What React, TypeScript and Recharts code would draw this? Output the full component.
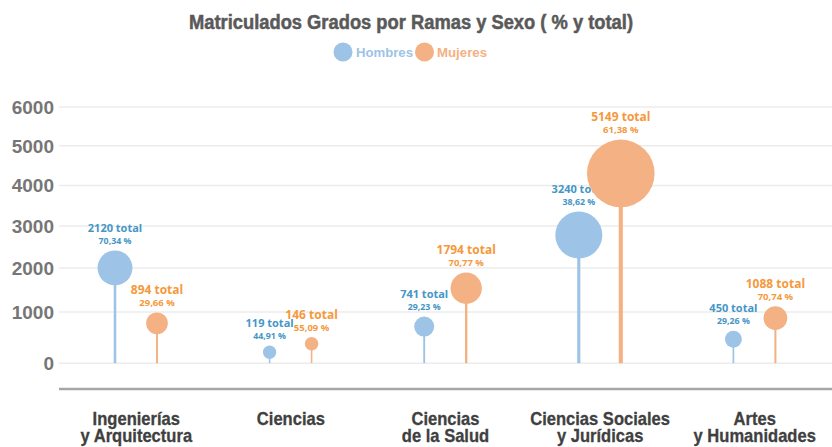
import React from 'react';
import { ComposedChart, Bar, XAxis, YAxis, CartesianGrid } from 'recharts';

// ---------- data ----------
const categories = [
  'Ingenierías\ny Arquitectura',
  'Ciencias',
  'Ciencias\nde la Salud',
  'Ciencias Sociales\ny Jurídicas',
  'Artes\ny Humanidades',
];
// bubble-centre heights as read on the value axis
const hombresValue = [2000, 180, 690, 2780, 430];
const mujeresValue = [760, 340, 1530, 4300, 870];
// annotated totals and percentages
const hombresTotal = [2120, 119, 741, 3240, 450];
const mujeresTotal = [894, 146, 1794, 5149, 1088];
const hombresPct = ['70,34', '44,91', '29,23', '38,62', '29,26'];
const mujeresPct = ['29,66', '55,09', '70,77', '61,38', '70,74'];
const yTicks = [0, 1000, 2000, 3000, 4000, 5000, 6000];

const data = categories.map((name, i) => ({
  name,
  hombres: hombresValue[i],
  mujeres: mujeresValue[i],
  hombresTotal: hombresTotal[i],
  mujeresTotal: mujeresTotal[i],
  hombresPct: hombresPct[i],
  mujeresPct: mujeresPct[i],
}));

// ---------- styles ----------
const H_FILL = '#9dc3e6';
const M_FILL = '#f4b183';
const H_LABEL = '#4596c6';
const M_LABEL = '#f5993d';
const SANS = '"Liberation Sans", Arial, sans-serif';
const LABEL_FONT = '"Open Sans", "Noto Sans", sans-serif';

// power scale (exponent 0.9) matching the reference's gridline spacing
function makePowScale(exponent: number): any {
  let dom: number[] = [0, 1];
  let rng: number[] = [0, 1];
  const f = (v: number) => Math.sign(v) * Math.pow(Math.abs(v), exponent);
  const finv = (u: number) => Math.sign(u) * Math.pow(Math.abs(u), 1 / exponent);
  const scale: any = (v: number) => {
    const a = f(dom[0]);
    const b = f(dom[1]);
    const t = (f(Number(v)) - a) / (b - a);
    return rng[0] + t * (rng[1] - rng[0]);
  };
  scale.domain = (d?: any[]) => {
    if (d === undefined) return dom.slice();
    dom = d.map(Number);
    return scale;
  };
  scale.range = (r?: any[]) => {
    if (r === undefined) return rng.slice();
    rng = r.map(Number);
    return scale;
  };
  scale.invert = (p: number) => {
    const a = f(dom[0]);
    const b = f(dom[1]);
    const t = (p - rng[0]) / (rng[1] - rng[0]);
    return finv(a + t * (b - a));
  };
  scale.copy = () => makePowScale(exponent).domain(dom).range(rng);
  scale.ticks = (n: number = 10) => {
    const lo = Math.min(dom[0], dom[1]);
    const hi = Math.max(dom[0], dom[1]);
    const step = Math.pow(10, Math.floor(Math.log10((hi - lo) / n)));
    const out: number[] = [];
    for (let v = Math.ceil(lo / step) * step; v <= hi; v += step) out.push(v);
    return out;
  };
  scale.tickFormat = () => (v: number) => String(v);
  scale.nice = () => scale;
  scale.clamp = () => scale;
  return scale;
}
const yScale = makePowScale(0.9);

const applyScale = (s: any, v: number) => (typeof s === 'function' ? s(v) : s.map(v));

const gridY = (props: any) => {
  const s = props?.yAxis?.scale;
  if (!s) return [];
  return yTicks.map((t) => applyScale(s, t));
};

const bubbleRadius = (total: number) => 6 + total * 0.0054;
const stemWidth = (total: number) => 1.5 + total / 2000;

function makeLollipop(fill: string, labelColor: string, totalKey: string, pctKey: string, big: boolean) {
  return (props: any) => {
    const { x, y, width, height, payload } = props;
    if (x == null || y == null || !payload) return <g />;
    const cx = x + width / 2;
    const total = payload[totalKey];
    const r = bubbleRadius(total);
    const top = y - r;
    return (
      <g>
        <line x1={cx} x2={cx} y1={y} y2={y + height} stroke={fill} strokeWidth={stemWidth(total)} />
        <circle cx={cx} cy={y} r={r} fill={fill} />
        <text
          x={cx}
          y={top - 18.5}
          textAnchor="middle"
          fill={labelColor}
          fontFamily={LABEL_FONT}
          fontWeight={700}
          fontSize={big ? 12 : 11}
        >
          {`${total} total`}
        </text>
        <text
          x={cx}
          y={top - 6.5}
          textAnchor="middle"
          fill={labelColor}
          fontFamily={LABEL_FONT}
          fontWeight={700}
          fontSize={big ? 9.5 : 8.8}
        >
          {`${payload[pctKey]} %`}
        </text>
      </g>
    );
  };
}

const HombresShape = makeLollipop(H_FILL, H_LABEL, 'hombresTotal', 'hombresPct', false);
const MujeresShape = makeLollipop(M_FILL, M_LABEL, 'mujeresTotal', 'mujeresPct', true);

const CategoryTick = (props: any) => {
  const { x, y, payload } = props;
  const lines = String(payload.value).split('\n');
  return (
    <g>
      {lines.map((line, i) => (
        <text
          key={i}
          transform={`translate(${x},${y + 34 + i * 17}) scale(0.92,1)`}
          textAnchor="middle"
          fill="#404040"
          stroke="#404040"
          strokeWidth={0.3}
          fontFamily={SANS}
          fontWeight={700}
          fontSize={18}
        >
          {line}
        </text>
      ))}
    </g>
  );
};

export default function App() {
  return (
    <div style={{ position: 'absolute', left: 0, top: 0, width: 832, height: 447, background: '#ffffff' }}>
      <ComposedChart
        width={832}
        height={447}
        data={data}
        margin={{ top: 69, right: 0, bottom: 0, left: 0 }}
        barGap={0}
      >
        <CartesianGrid
          vertical={false}
          stroke="#ececec"
          strokeWidth={1.5}
          horizontalCoordinatesGenerator={gridY}
        />
        <XAxis
          dataKey="name"
          type="category"
          interval={0}
          height={58}
          tickLine={false}
          tickSize={0}
          axisLine={{ stroke: '#a6a6a6', strokeWidth: 2.5 }}
          tick={<CategoryTick />}
        />
        <YAxis
          type="number"
          scale={yScale}
          domain={[-470, 7000]}
          ticks={yTicks}
          interval={0}
          width={59}
          axisLine={false}
          tickLine={false}
          tickSize={0}
          tickMargin={5}
          tick={{ fill: '#767676', fontSize: 19, fontWeight: 700, fontFamily: SANS }}
        />
        <Bar dataKey="hombres" barSize={42} fill={H_FILL} shape={HombresShape} isAnimationActive={false} />
        <Bar dataKey="mujeres" barSize={42} fill={M_FILL} shape={MujeresShape} isAnimationActive={false} />
      </ComposedChart>
      <svg
        width={832}
        height={70}
        style={{ position: 'absolute', left: 0, top: 0, pointerEvents: 'none' }}
      >
        <text
          x={411}
          y={29}
          textAnchor="middle"
          fill="#595959"
          stroke="#595959"
          strokeWidth={0.5}
          fontFamily={SANS}
          fontWeight={700}
          fontSize={20}
          textLength={444}
          lengthAdjust="spacingAndGlyphs"
        >
          Matriculados Grados por Ramas y Sexo ( % y total)
        </text>
        <circle cx={343} cy={52} r={9.5} fill={H_FILL} />
        <text x={356} y={57} fill={H_FILL} fontFamily={SANS} fontWeight={700} fontSize={13} textLength={57} lengthAdjust="spacingAndGlyphs">
          Hombres
        </text>
        <circle cx={424.5} cy={52} r={9.5} fill={M_FILL} />
        <text x={437} y={57} fill={M_FILL} fontFamily={SANS} fontWeight={700} fontSize={13} textLength={50} lengthAdjust="spacingAndGlyphs">
          Mujeres
        </text>
      </svg>
    </div>
  );
}
